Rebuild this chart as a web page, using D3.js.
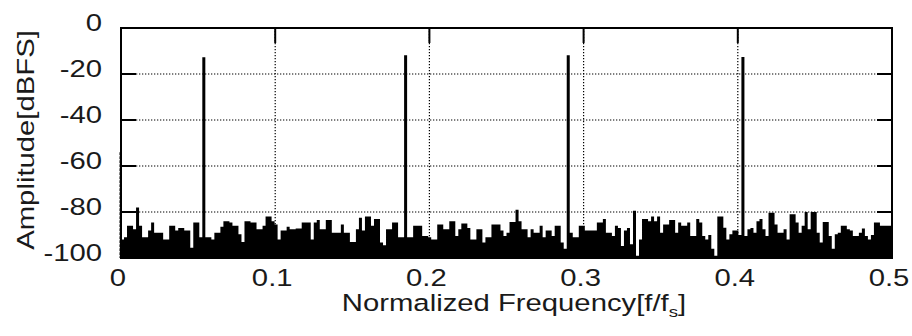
<!DOCTYPE html>
<html>
<head>
<meta charset="utf-8">
<script src="https://cdn.jsdelivr.net/npm/d3@7"></script>
<style>
  html, body { margin: 0; padding: 0; background: #fff; }
  svg { display: block; }
  text { font-family: "Liberation Sans", Arial, sans-serif; fill: #1a1a1a; }
</style>
</head>
<body>
<svg id="chart" width="912" height="336"></svg>
<script>
// Spectrum magnitude per FFT bin (256 bins spanning 0 .. 0.5 fs), in dBFS
const spectrumDb = [
  -92, -91, -86, -86, -87.5, -78, -86, -91, -91, -88, -84.6, -89, -89, -89, -92, -92,
  -86, -86, -88, -87, -87, -88, -88, -95.5, -84.6, -84.6, -91, -12.7, -91, -91, -92, -89,
  -89, -86.4, -84, -84, -84.6, -86, -86, -89.7, -93, -84, -84, -84.6, -84.6, -87.5, -87.5, -86,
  -82, -82, -84, -85.4, -92, -88, -88, -86.4, -87.5, -87.5, -87.2, -87.2, -84.6, -84.6, -84.6, -92,
  -84.6, -83.5, -87.5, -87.5, -83.5, -83.5, -89, -89, -89, -85.4, -89, -89, -93, -93, -87.5, -82.5,
  -88, -82, -82, -86, -83, -83, -93.3, -94.5, -87.5, -87.5, -84.6, -84.6, -91, -91, -11.8, -91,
  -91, -86, -86, -86, -90.4, -90.4, -91, -92, -92, -85.4, -85.4, -87.5, -87.5, -84, -84, -90.4,
  -87.5, -85, -85, -87, -92, -92, -87.5, -87.5, -93.3, -91, -91, -85.4, -85.4, -85.4, -88, -90.4,
  -89, -84.3, -84.3, -79, -84, -87.5, -87.5, -91, -87.5, -89, -89, -86, -91, -88, -88, -90.4,
  -86, -86, -93.3, -96, -11.8, -89, -91, -91, -86, -86, -88, -88, -88, -88, -84.6, -84.6,
  -83, -89, -89, -90.4, -86, -87, -94.8, -88, -87, -94, -79.5, -99, -92, -83, -83, -84,
  -82, -84, -82, -89, -85.4, -85.4, -83.5, -83.5, -89, -84.6, -86, -86, -84.6, -90.4, -90.4, -83,
  -84.6, -90.4, -92, -90, -96, -99, -82, -82, -86.8, -92, -89.7, -88, -88, -90, -12.6, -90.4,
  -87.5, -87, -89, -84, -83, -87.5, -90.4, -80.3, -80.3, -85.4, -89, -89, -87.5, -92, -81, -81,
  -84.6, -89, -86, -80, -87.5, -80, -80, -89, -93.3, -84.3, -84.3, -90.4, -96, -89.7, -89, -86,
  -86, -87.5, -88, -90.4, -90.4, -89, -87.2, -90.4, -92, -90, -84.6, -84.6, -86, -86, -86, -86
];
// DC component at f = 0
const dcLevelDb = -54;

const xTicks = [0, 0.1, 0.2, 0.3, 0.4, 0.5];
const xTickLabels = ["0", "0.1", "0.2", "0.3", "0.4", "0.5"];
const yTicks = [0, -20, -40, -60, -80, -100];
const yTickLabels = ["0", "-20", "-40", "-60", "-80", "-100"];
const xTitle = "Normalized Frequency[f/f";
const xTitleSub = "s";
const yTitle = "Amplitude[dBFS]";

const svg = d3.select("#chart");
const plot = { left: 121, right: 892, top: 28, bottom: 258 };
const x = d3.scaleLinear().domain([0, 0.5]).range([plot.left, plot.right]);
const y = d3.scaleLinear().domain([-100, 0]).range([plot.bottom, plot.top]);
const stretch = 1.33;   // wide glyphs of the axis lettering
const fontPx = "22px";
const tickLen = 15;

// dotted grid
const grid = svg.append("g")
  .attr("stroke", "#000").attr("stroke-width", 1.2)
  .attr("stroke-dasharray", "1.3,1.7");
grid.selectAll("line.gx").data(xTicks.slice(1, -1)).join("line")
  .attr("x1", d => x(d)).attr("x2", d => x(d))
  .attr("y1", plot.top).attr("y2", plot.bottom);
grid.selectAll("line.gy").data(yTicks.slice(1, -1)).join("line")
  .attr("y1", d => y(d)).attr("y2", d => y(d))
  .attr("x1", plot.left).attr("x2", plot.right);

// spectrum as a filled staircase
const binWidth = 0.5 / spectrumDb.length;
const pts = spectrumDb.map((v, i) => [i * binWidth, v]);
pts.push([0.5, spectrumDb[spectrumDb.length - 1]]);
const area = d3.area()
  .curve(d3.curveStepAfter)
  .x(d => x(d[0]))
  .y0(y(-100))
  .y1(d => y(d[1]));
svg.append("path").datum(pts).attr("d", area).attr("fill", "#000");

// DC line
svg.append("line")
  .attr("x1", x(0) - 0.5).attr("x2", x(0) - 0.5)
  .attr("y1", y(dcLevelDb)).attr("y2", y(-100))
  .attr("stroke", "#000").attr("stroke-width", 2)
  .attr("stroke-dasharray", "3,1");

// box
svg.append("rect")
  .attr("x", plot.left).attr("y", plot.top)
  .attr("width", plot.right - plot.left).attr("height", plot.bottom - plot.top)
  .attr("fill", "none").attr("stroke", "#000").attr("stroke-width", 2);

// inward ticks on all four sides
const ticks = svg.append("g").attr("stroke", "#000").attr("stroke-width", 2);
xTicks.slice(1, -1).forEach(t => {
  ticks.append("line").attr("x1", x(t)).attr("x2", x(t)).attr("y1", plot.top).attr("y2", plot.top + tickLen);
  ticks.append("line").attr("x1", x(t)).attr("x2", x(t)).attr("y1", plot.bottom).attr("y2", plot.bottom - tickLen);
});
yTicks.slice(1, -1).forEach(t => {
  ticks.append("line").attr("y1", y(t)).attr("y2", y(t)).attr("x1", plot.left).attr("x2", plot.left + tickLen);
  ticks.append("line").attr("y1", y(t)).attr("y2", y(t)).attr("x1", plot.right).attr("x2", plot.right - tickLen);
});

// tick labels
svg.append("g").selectAll("text").data(xTicks).join("text")
  .attr("transform", d => `translate(${x(d) - 3},286) scale(${stretch},1.05)`)
  .attr("text-anchor", "middle")
  .style("font-size", fontPx)
  .text((d, i) => xTickLabels[i]);

svg.append("g").selectAll("text").data(yTicks).join("text")
  .attr("transform", d => `translate(102,${y(d) + 3}) scale(${stretch},1.05)`)
  .attr("text-anchor", "end")
  .style("font-size", fontPx)
  .text((d, i) => yTickLabels[i]);

// axis titles
const xt = svg.append("text")
  .attr("transform", `translate(514,311) scale(${stretch},1.05)`)
  .attr("text-anchor", "middle")
  .style("font-size", fontPx);
xt.append("tspan").text(xTitle);
xt.append("tspan").attr("dy", 6).style("font-size", "14px").text(xTitleSub);
xt.append("tspan").attr("dy", -6).text("]");

svg.append("text")
  .attr("transform", `translate(34,140) rotate(-90) scale(${stretch},1.05)`)
  .attr("text-anchor", "middle")
  .style("font-size", fontPx)
  .text(yTitle);
</script>
</body>
</html>
